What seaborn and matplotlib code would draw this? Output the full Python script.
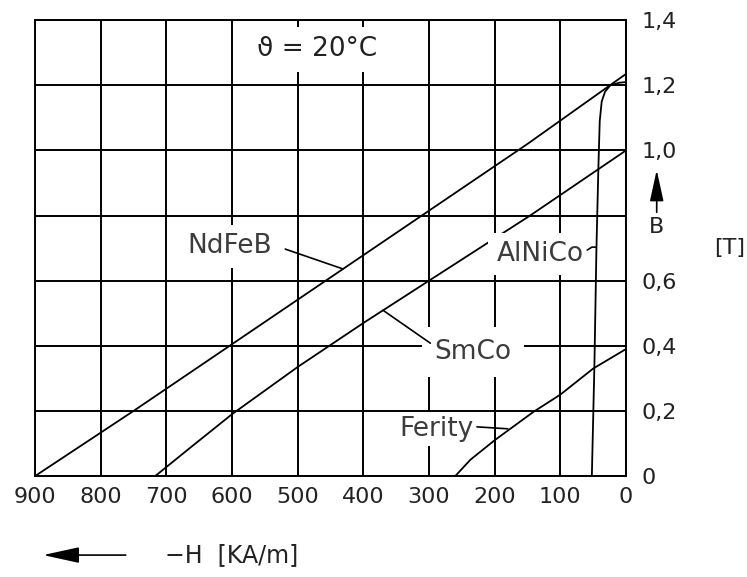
import numpy as np
import pandas as pd
import matplotlib
matplotlib.use("Agg")
import matplotlib.pyplot as plt
import seaborn as sns

# Demagnetization curves (H in kA/m, B in T)
ndfeb_h = [900, 750, 600, 450, 300, 150, 0]
ndfeb_b = [0.0, 0.2, 0.405, 0.61, 0.815, 1.02, 1.235]

smco_h = [717, 660, 600, 500, 400, 300, 146, 0]
smco_b = [0.0, 0.093, 0.19, 0.335, 0.47, 0.6, 0.8, 1.0]

alnico_h = [0, 10, 24, 32, 37, 40, 42, 45, 48, 52]
alnico_b = [1.21, 1.208, 1.2, 1.18, 1.15, 1.09, 0.95, 0.7, 0.35, 0.0]

ferrite_h = [260, 237, 200, 141, 100, 50, 0]
ferrite_b = [0.0, 0.05, 0.11, 0.197, 0.25, 0.33, 0.39]

x_ticks = [900, 800, 700, 600, 500, 400, 300, 200, 100, 0]
y_ticks = [0, 0.2, 0.4, 0.6, 0.8, 1.0, 1.2, 1.4]
y_tick_labels = ["0", "0,2", "0,4", "0,6", "", "1,0", "1,2", "1,4"]

sns.set_theme(style="white")
plt.rcParams["font.family"] = ["DejaVu Sans"]

fig = plt.figure(figsize=(7.47, 5.77), dpi=100)
ax = fig.add_axes([0.047, 0.175, 0.791, 0.790])

curves = {
    "NdFeB": (ndfeb_h, ndfeb_b),
    "SmCo": (smco_h, smco_b),
    "AlNiCo": (alnico_h, alnico_b),
    "Ferity": (ferrite_h, ferrite_b),
}
for name, (h, b) in curves.items():
    df = pd.DataFrame({"H": h, "B": b})
    sns.lineplot(data=df, x="H", y="B", sort=False, estimator=None,
                 color="black", linewidth=1.3, ax=ax, zorder=3)

ax.set_xlim(900, 0)
ax.set_ylim(0, 1.4)
ax.set_xticks(x_ticks)
ax.set_yticks(y_ticks)
ax.set_yticklabels(y_tick_labels)
ax.grid(True, color="black", linewidth=1.4, zorder=1)
ax.set_axisbelow(True)
for s in ax.spines.values():
    s.set_color("black")
    s.set_linewidth(1.4)
ax.yaxis.tick_right()
ax.tick_params(axis="both", length=0, labelsize=16, colors="#222222")
ax.tick_params(axis="y", pad=11)
ax.tick_params(axis="x", pad=8)
ax.set_xlabel("")
ax.set_ylabel("")

label_color = "#3c3c3c"
box = dict(facecolor="white", edgecolor="none", pad=6)


def leader(h, b, x0, y0, xt):
    # draw a leader line from the label to the point of the curve at xt
    hh, bb = np.array(h), np.array(b)
    order = np.argsort(hh)
    yt = np.interp(xt, hh[order], bb[order])
    ax.annotate("", xy=(xt, yt), xytext=(x0, y0),
                arrowprops=dict(arrowstyle="-", color="black", lw=1.2,
                                shrinkA=0, shrinkB=0), zorder=5)


# curve labels with white boxes hiding the grid
ax.text(603, 0.706, "NdFeB", fontsize=19, color=label_color,
        ha="center", va="center", bbox=box, zorder=4)
leader(ndfeb_h, ndfeb_b, 519, 0.697, 431)

ax.text(233, 0.381, "SmCo", fontsize=19, color=label_color,
        ha="center", va="center", zorder=4,
        bbox=dict(facecolor="white", edgecolor="none", pad=9))
leader(smco_h, smco_b, 298, 0.408, 370)

ax.text(131, 0.682, "AlNiCo", fontsize=19, color=label_color,
        ha="center", va="center", bbox=box, zorder=4)
ax.plot([59, 52, 46], [0.694, 0.703, 0.703], color="black", lw=1.2, zorder=5)

ax.text(288, 0.144, "Ferity", fontsize=19, color=label_color,
        ha="center", va="center", zorder=4,
        bbox=dict(facecolor="white", edgecolor="none", pad=3))
ax.plot([227, 180], [0.151, 0.145], color="black", lw=1.2, zorder=5)

ax.text(470, 1.31, "\u03d1 = 20\u00b0C", fontsize=19, color="#222222",
        ha="center", va="center", zorder=4,
        bbox=dict(facecolor="white", edgecolor="none", pad=7))

# B axis arrow and unit on the right
trans = ax.get_yaxis_transform()
ax.annotate("", xy=(1.052, 0.94), xytext=(1.052, 0.81), xycoords=trans,
            textcoords=trans,
            arrowprops=dict(arrowstyle="-|>,head_length=1.6,head_width=0.35",
                            color="black", lw=1.2, shrinkA=0, shrinkB=0))
ax.text(1.052, 0.765, "B", transform=trans, fontsize=16, color="#222222",
        ha="center", va="center")
ax.text(1.176, 0.70, "[T]", transform=trans, fontsize=16, color="#222222",
        ha="center", va="center")

# H axis label with arrow pointing left
fig.patches.append(matplotlib.patches.FancyArrowPatch(
    (0.172, 0.038), (0.054, 0.038), transform=fig.transFigure,
    arrowstyle="-|>,head_length=1.6,head_width=0.35", color="black", lw=1.2,
    mutation_scale=14))
fig.text(0.221, 0.038, "\u2212H  [KA/m]", fontsize=17, color="#222222",
         ha="left", va="center")

fig.savefig("out.png", dpi=100)
